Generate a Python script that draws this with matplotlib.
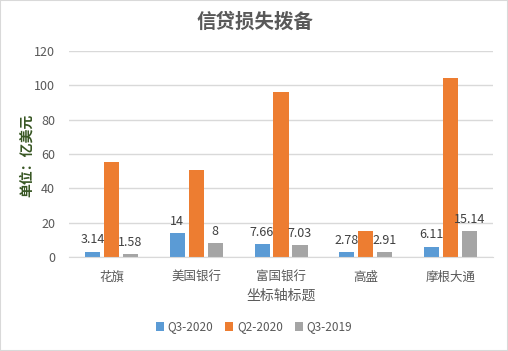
import matplotlib
matplotlib.use("Agg")
import matplotlib.pyplot as plt
import numpy as np

plt.rcParams['font.family'] = ['Noto Sans CJK SC', 'DejaVu Sans']

categories = ['花旗', '美国银行', '富国银行', '高盛', '摩根大通']
series_names = ['Q3-2020', 'Q2-2020', 'Q3-2019']
q3_2020 = [3.14, 14, 7.66, 2.78, 6.11]
q2_2020 = [55.3, 50.8, 96.2, 15.2, 104.5]
q3_2019 = [1.58, 8, 7.03, 2.91, 15.14]
q3_2020_labels = ['3.14', '14', '7.66', '2.78', '6.11']
q3_2019_labels = ['1.58', '8', '7.03', '2.91', '15.14']
colors = ['#5B9BD5', '#ED7D31', '#A5A5A5']
yticks = [0, 20, 40, 60, 80, 100, 120]

fig = plt.figure(figsize=(5.08, 3.51), dpi=100)
ax = fig.add_axes([69/508, 1-257/351, (493-69)/508, (257-51)/351])

x = np.arange(len(categories))
w = 0.177
pitch = 0.224
text_c = '#595959'
for i, (vals, c, name) in enumerate(zip([q3_2020, q2_2020, q3_2019], colors, series_names)):
    ax.bar(x + (i-1)*pitch, vals, width=w, color=c, label=name, zorder=2)

for xi, v, lab in zip(x, q3_2020, q3_2020_labels):
    ax.text(xi - pitch, v + 3, lab, ha='center', va='bottom', fontsize=9, color='#404040')
for xi, v, lab in zip(x, q3_2019, q3_2019_labels):
    ax.text(xi + pitch, v + 3, lab, ha='center', va='bottom', fontsize=9, color='#404040')

ax.set_xlim(-0.5, len(categories)-0.5)
ax.set_ylim(0, 120)
ax.set_yticks(yticks)
ax.set_xticks(x)
ax.set_xticklabels(categories)
ax.grid(axis='y', color='#D9D9D9', linewidth=1, zorder=0)
for s in ['top', 'right', 'left']:
    ax.spines[s].set_visible(False)
ax.spines['bottom'].set_color('#D9D9D9')
ax.tick_params(axis='both', length=0, colors=text_c, labelsize=9)
ax.tick_params(axis='x', pad=10)
ax.tick_params(axis='y', pad=10)

fig.text(281/508, 1-296/351, '坐标轴标题', ha='center', va='center', fontsize=10, color=text_c)
fig.text(27/508, 1-155/351, '单位：亿美元', rotation=90, ha='center', va='center',
         fontsize=10, color='#375623', fontweight='bold')
fig.text(255/508, 1-22/351, '信贷损失拨备', ha='center', va='center', fontsize=14,
         color=text_c, fontweight='bold')

leg = fig.legend(loc='center', bbox_to_anchor=(254/508, 1-327/351), ncol=3, frameon=False,
                 fontsize=8.5, handlelength=0.7, handleheight=0.7, handletextpad=0.3, columnspacing=1.0,
                 labelcolor=text_c)

fig.patches.append(plt.Rectangle((0, 0), 1, 1, transform=fig.transFigure, fill=False,
                                 edgecolor='#D9D9D9', linewidth=1.5))
fig.savefig('out.png', dpi=100)
